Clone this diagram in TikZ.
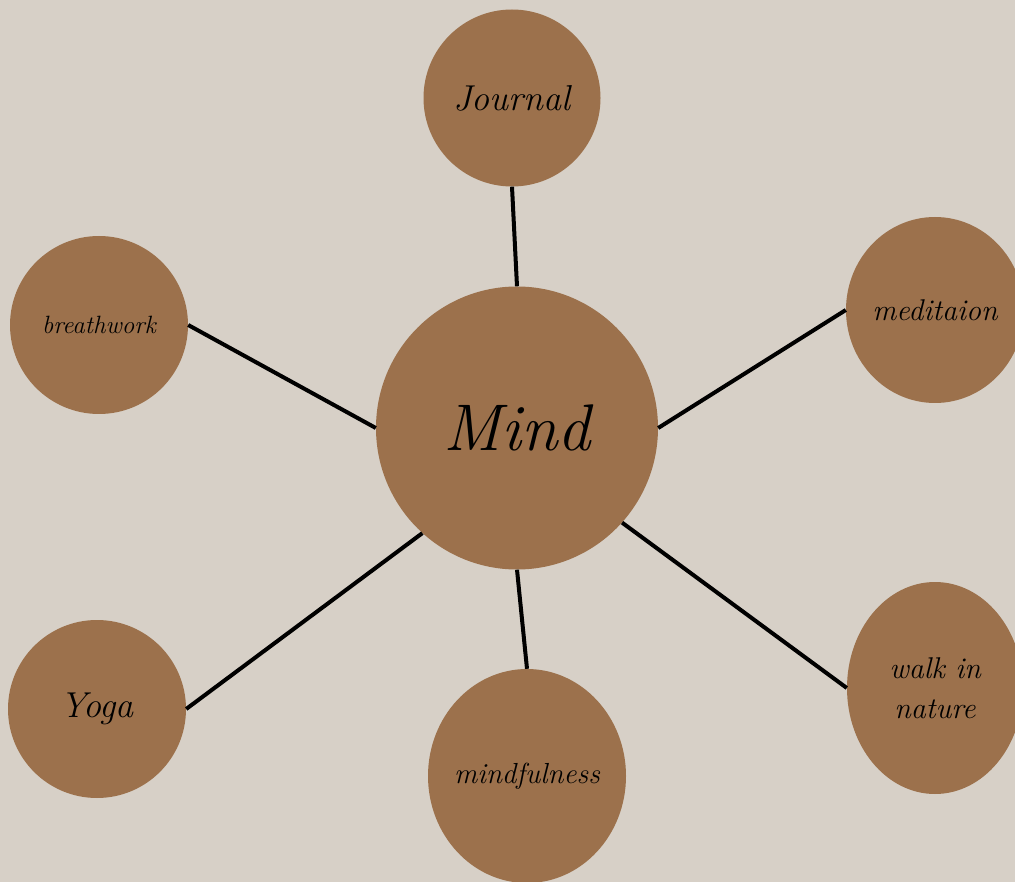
\documentclass[tikz,border=0pt]{standalone}
\usetikzlibrary{shapes.geometric}
\definecolor{bgc}{HTML}{D7D0C7}
\definecolor{brownc}{HTML}{9C714C}
\tikzset{
  blob/.style={ellipse, fill=brownc, draw=none, inner sep=0pt, minimum width=#1},
  lbl/.style={font=\itshape\fontsize{26}{30}\selectfont, text=black, align=center},
  conn/.style={line width=4pt, draw=black}
}
\begin{document}
\begin{tikzpicture}[x=1pt,y=-1pt]
\fill[bgc] (0,0) rectangle (1015,882);
\useasboundingbox (0,0) rectangle (1015,882);
\node[blob=282pt, minimum height=283pt, label={[lbl, font=\itshape\fontsize{66}{70}\selectfont]center:Mind}] (mind) at (517,428) {};
\node[blob=177pt, minimum height=177pt, label={[lbl, font=\itshape\fontsize{36}{40}\selectfont]center:Journal}] (journal) at (512,98) {};
\node[blob=178pt, minimum height=178pt, label={[lbl, font=\itshape\fontsize{25}{28}\selectfont]center:breathwork}] (breath) at (99,325) {};
\node[blob=178pt, minimum height=186pt, label={[lbl, font=\itshape\fontsize{30}{34}\selectfont]center:meditaion}] (medit) at (935,310) {};
\node[blob=176pt, minimum height=212pt, label={[lbl, font=\itshape\fontsize{30}{34}\selectfont]center:{walk in\\[6pt]nature}}] (walk) at (935,688) {};
\node[blob=178pt, minimum height=178pt, label={[lbl, font=\itshape\fontsize{36}{40}\selectfont]center:Yoga}] (yoga) at (97,709) {};
\node[blob=198pt, minimum height=214pt, label={[lbl, font=\itshape\fontsize{29}{32}\selectfont]center:mindfulness}] (mindf) at (527,776) {};
\draw[conn] (mind.north) -- (journal.south);
\draw[conn] (mind.west) -- (breath.east);
\draw[conn] (mind.east) -- (medit.west);
\draw[conn] (mind.-42) -- (walk.west);
\draw[conn] (mind.-132.6) -- (yoga.east);
\draw[conn] (mind.south) -- (mindf.north);
\end{tikzpicture}
\end{document}
